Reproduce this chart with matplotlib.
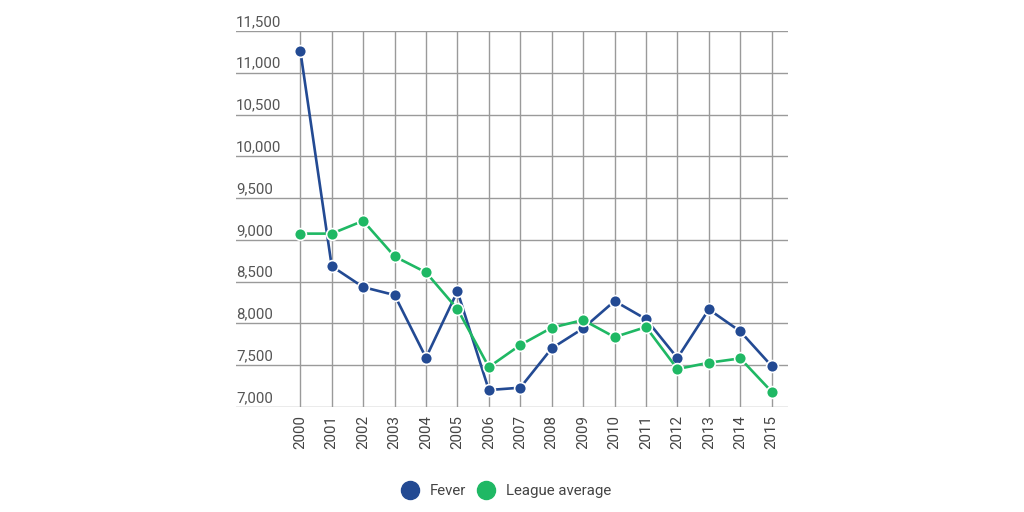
import matplotlib
matplotlib.use("Agg")
import matplotlib.pyplot as plt
from matplotlib.lines import Line2D

years = list(range(2000, 2016))
fever = [11265, 8685, 8435, 8340, 7590, 8385, 7203, 7231, 7702, 7941, 8268, 8052, 7586, 8168, 7905, 7490]
league = [9075, 9075, 9228, 8802, 8611, 8172, 7478, 7742, 7949, 8041, 7837, 7957, 7455, 7530, 7582, 7183]
yticks = [7000, 7500, 8000, 8500, 9000, 9500, 10000, 10500, 11000, 11500]
series_names = ["Fever", "League average"]

blue = "#234a93"
green = "#1fb864"
plt.rcParams['font.family'] = ['Roboto', 'DejaVu Sans']

W, H = 1024, 512
fig = plt.figure(figsize=(W / 100, H / 100), dpi=100)
ax = fig.add_axes([236 / W, 1 - 407 / H, (788 - 236) / W, (407 - 31) / H])

ax.set_ylim(7000, 11500)
ax.set_xlim(2000 - 64.3 / 31.43, 2015 + 16.3 / 31.43)
for s in ax.spines.values():
    s.set_visible(False)

for v in yticks:
    ax.axhline(v, color="#9a9a9a", lw=1, zorder=1)
    ax.annotate(f"{v:,}", xy=(0, v), xycoords=("axes fraction", "data"),
                xytext=(0, 1.5), textcoords="offset points", ha="left", va="bottom",
                fontsize=10.8, color="#555555")
for yr in years:
    ax.axvline(yr, color="#9a9a9a", lw=1, zorder=1)

ax.set_yticks([])
ax.set_xticks(years)
ax.set_xticklabels([str(y) for y in years], rotation=90, fontsize=10.8, color="#444444")
ax.tick_params(axis="x", length=0, pad=6)

ax.plot(years, fever, color=blue, lw=1.9, marker="o", ms=8.5, mfc=blue, mec="white", mew=1.2, zorder=3)
ax.plot(years, league, color=green, lw=1.9, marker="o", ms=8.5, mfc=green, mec="white", mew=1.2, zorder=3)

handles = [Line2D([], [], ls="none", marker="o", ms=13, mfc=blue, mec=blue),
           Line2D([], [], ls="none", marker="o", ms=13, mfc=green, mec=green)]
fig.legend(handles, series_names, loc="center", bbox_to_anchor=(506 / W, 1 - 491 / H),
           ncol=2, frameon=False, fontsize=10.8, labelcolor="#444444",
           handletextpad=0.7, columnspacing=0.75, handlelength=1.2)

fig.savefig("out.png", dpi=100, facecolor="white")
